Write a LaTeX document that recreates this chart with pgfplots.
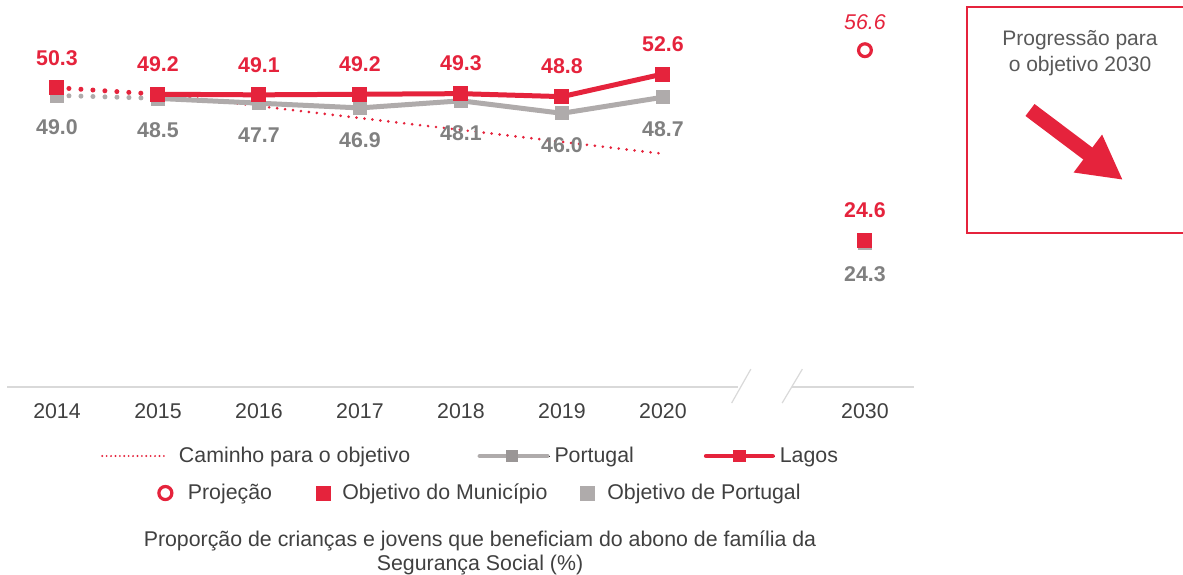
\documentclass[border=0pt]{standalone}
\usepackage{fontspec}
\setmainfont{Liberation Sans}
\usepackage{pgfplots}
\pgfplotsset{compat=1.18}
\usetikzlibrary{arrows.meta}
\definecolor{lred}{RGB}{229,35,60}
\definecolor{pgray}{RGB}{175,171,171}
\definecolor{lblgray}{RGB}{128,128,128}
\definecolor{txt}{RGB}{64,64,64}
\definecolor{axgray}{RGB}{217,217,217}
\definecolor{boxtxt}{RGB}{89,89,89}
\newcommand{\fnt}{\fontsize{16}{18}\selectfont}
\begin{document}
\begin{tikzpicture}
\useasboundingbox (0,0) rectangle (887.25pt,431.25pt);
\pgfplotsset{
  base/.style={scale only axis, width=680.2pt, height=290.25pt,
    at={(5.625pt,141pt)}, anchor=south west,
    xmin=-0.49, xmax=8.49, ymin=0, ymax=65.04, clip=false},
  lbl/.style={point meta=y,
    nodes near coords={\pgfmathprintnumber[fixed,fixed zerofill,precision=1,assume math mode=true]{\pgfplotspointmeta}},
    nodes near coords align={center}},
  redlbl/.style={lbl, every node near coord/.append style={yshift=22.5pt, font=\bfseries\fnt, text=lred}},
  graylbl/.style={lbl, every node near coord/.append style={yshift=-24pt, font=\bfseries\fnt, text=lblgray}},
  projlbl/.style={lbl, every node near coord/.append style={yshift=21pt, font=\itshape\fnt, text=lred}},
}
\begin{axis}[base,
  axis line style={draw=none},
  ytick=\empty,
  xtick={0,1,2,3,4,5,6,8},
  xticklabels={2014,2015,2016,2017,2018,2019,2020,2030},
  major tick length=0pt, xtick style={draw=none},
  xticklabel style={anchor=center, yshift=-18pt, font=\fnt, text=txt},
  legend columns=-1,
  legend style={at={(axis cs:0.435,-11.6)}, anchor=west, draw=none, fill=none,
    inner sep=0pt, font=\fnt, text=txt,
    /tikz/column 1/.style={column sep=6pt},
    /tikz/column 2/.style={column sep=48.3pt},
    /tikz/column 3/.style={column sep=1.5pt},
    /tikz/column 4/.style={column sep=50.25pt},
    /tikz/column 5/.style={column sep=1.5pt}},
]
\addlegendimage{legend image code/.code={\draw[lred, line width=1.6pt, dash pattern=on 0pt off 3.3pt, line cap=round] (0pt,0pt) -- (48.75pt,0pt);}}
\addlegendentry{Caminho para o objetivo}
\addlegendimage{legend image code/.code={\path (0pt,0pt) -- (54pt,0pt); \draw[pgray, line width=3.6pt, line cap=round] (1.8pt,0pt) -- (52.2pt,0pt); \fill[pgray!88!black] (21.75pt,-4pt) rectangle (30pt,4pt);}}
\addlegendentry{Portugal}
\addlegendimage{legend image code/.code={\path (0pt,0pt) -- (53.25pt,0pt); \draw[lred, line width=3.6pt, line cap=round] (1.8pt,0pt) -- (51.45pt,0pt); \fill[lred] (22.1pt,-4.3pt) rectangle (31.1pt,4.3pt);}}
\addlegendentry{Lagos}

% axis line with break
\draw[axgray, line width=1.5pt] (axis cs:-0.49,0) -- (axis cs:6.74,0);
\draw[axgray, line width=1.5pt] (axis cs:7.28,0) -- (axis cs:8.49,0);
\draw[axgray, line width=0.9pt] (axis cs:6.68,-2.7) -- (axis cs:6.87,3.0);
\draw[axgray, line width=0.9pt] (axis cs:7.18,-2.7) -- (axis cs:7.38,3.0);

% path to target
\addplot[forget plot, lred, line width=2.2pt, dash pattern=on 0pt off 6pt, line cap=round]
  coordinates {(1,49.3) (2,47.2) (3,45.2) (4,43.2) (5,41.2) (6,39.2)};
% dotted 2014-2015
\addplot[forget plot, pgray, line width=3.75pt, dash pattern=on 0pt off 9pt, line cap=round]
  coordinates {(0,49.0) (1,48.5)};
\addplot[forget plot, lred, line width=3.75pt, dash pattern=on 0pt off 9pt, line cap=round]
  coordinates {(0,50.3) (1,49.2)};
% Portugal
\addplot[forget plot, pgray, line width=3.75pt, mark=square*, mark size=5pt,
  mark options={solid, fill=pgray, draw=pgray, line width=0pt}, graylbl]
  coordinates {(1,48.5) (2,47.7) (3,46.9) (4,48.1) (5,46.0) (6,48.7)};
\addplot[forget plot, only marks, mark=square*, mark size=5pt,
  mark options={solid, fill=pgray, draw=pgray, line width=0pt}, graylbl]
  coordinates {(0,49.0) (8,24.3)};
% Lagos
\addplot[forget plot, lred, line width=3.75pt, mark=square*, mark size=5.25pt,
  mark options={solid, fill=lred, draw=lred, line width=0pt}, redlbl]
  coordinates {(1,49.2) (2,49.1) (3,49.2) (4,49.3) (5,48.8) (6,52.6)};
\addplot[forget plot, only marks, mark=square*, mark size=5.25pt,
  mark options={solid, fill=lred, draw=lred, line width=0pt}, redlbl]
  coordinates {(0,50.3) (8,24.6)};
% Projection
\addplot[forget plot, only marks, mark=o, mark size=4.8pt,
  mark options={solid, draw=lred, line width=2.4pt}, projlbl]
  coordinates {(8,56.6)};
\end{axis}

\begin{axis}[base, hide axis,
  legend columns=-1,
  legend style={at={(axis cs:0.99,-17.82)}, anchor=west, draw=none, fill=none,
    inner sep=0pt, font=\fnt, text=txt,
    /tikz/column 1/.style={column sep=8.8pt},
    /tikz/column 2/.style={column sep=30.75pt},
    /tikz/column 3/.style={column sep=7pt},
    /tikz/column 4/.style={column sep=22.5pt},
    /tikz/column 5/.style={column sep=7.5pt}},
]
\addlegendimage{legend image code/.code={\draw[lred, line width=2.4pt] (6.1pt,0pt) circle (4.9pt);}}
\addlegendentry{Projeção}
\addlegendimage{legend image code/.code={\fill[lred] (0pt,-5.25pt) rectangle (10.5pt,5.25pt);}}
\addlegendentry{Objetivo do Município}
\addlegendimage{legend image code/.code={\fill[pgray] (0pt,-5.25pt) rectangle (10.5pt,5.25pt);}}
\addlegendentry{Objetivo de Portugal}
\end{axis}

% caption
\node[align=center, font=\fontsize{16}{18}\selectfont, text=txt] at (360pt,16.5pt)
  {Proporção de crianças e jovens que beneficiam do abono de família da\\Segurança Social (\%)};
% progress box
\draw[lred, line width=1.5pt] (725.25pt,426pt) rectangle (900pt,256.5pt);
\node[align=center, font=\fontsize{15.75}{19.5}\selectfont, text=boxtxt] at (810pt,391.5pt)
  {Progressão para\\o objetivo 2030};
\draw[lred, line width=11.25pt, -{Triangle[length=33pt,width=33pt]}]
  (772.5pt,348.75pt) -- (842.25pt,296.25pt);
\end{tikzpicture}
\end{document}
